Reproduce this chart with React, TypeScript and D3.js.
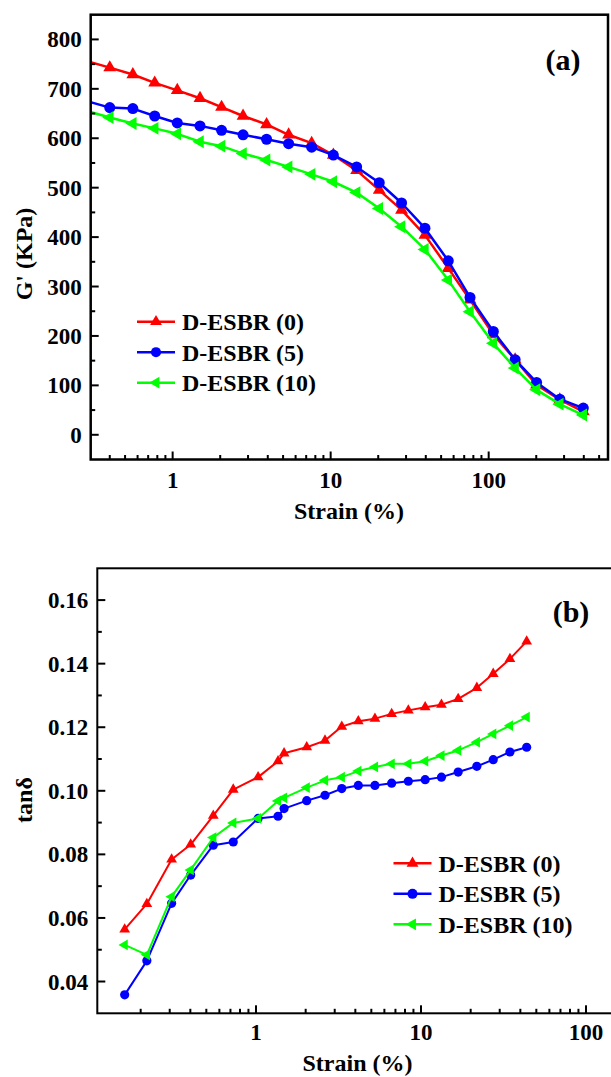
import React, { useRef, useEffect } from 'react';
import * as d3 from 'd3';

// panel (a): storage modulus vs strain
const gStrain = [0.28, 0.40, 0.56, 0.77, 1.07, 1.49, 2.04, 2.79, 3.93, 5.42, 7.58, 10.4, 14.6, 20.3, 28.1, 39.5, 55.5, 76.2, 107, 147, 201, 282, 397];
const gRed = [757, 743, 729, 712, 697, 681, 663, 645, 628, 607, 590, 566, 535, 495, 455, 404, 337, 273, 203, 152, 101, 71, 47];
const gBlue = [676, 662, 660, 645, 631, 625, 616, 607, 598, 589, 582, 566, 542, 510, 469, 418, 352, 278, 209, 152, 106, 72, 54];
const gGreen = [656, 642, 630, 620, 609, 593, 584, 569, 556, 542, 527, 512, 490, 458, 421, 375, 313, 249, 185, 135, 91, 62, 40];
const gYTicks = [0, 100, 200, 300, 400, 500, 600, 700, 800];

// panel (b): tan delta vs strain
const tStrain = [0.16, 0.218, 0.308, 0.402, 0.551, 0.728, 1.03, 1.36, 1.48, 2.03, 2.62, 3.31, 4.17, 5.26, 6.64, 8.38, 10.6, 13.3, 16.8, 21.8, 27.4, 34.6, 43.7];
const tRed = [0.0564, 0.0644, 0.0784, 0.0831, 0.0922, 0.1004, 0.1043, 0.1093, 0.1118, 0.1137, 0.1158, 0.1202, 0.1219, 0.1227, 0.1242, 0.1253, 0.1263, 0.1271, 0.1289, 0.1324, 0.1368, 0.1415, 0.1470];
const tBlue = [0.0358, 0.0465, 0.0646, 0.0735, 0.0829, 0.0839, 0.0913, 0.0920, 0.0944, 0.0969, 0.0986, 0.1007, 0.1017, 0.1017, 0.1024, 0.1030, 0.1035, 0.1043, 0.1059, 0.1077, 0.1098, 0.1122, 0.1137];
const tGreen = [0.0515, 0.0484, 0.0667, 0.0751, 0.0853, 0.0899, 0.0913, 0.0968, 0.0978, 0.1010, 0.1033, 0.1043, 0.1062, 0.1075, 0.1085, 0.1085, 0.1093, 0.1111, 0.1127, 0.1153, 0.1179, 0.1205, 0.1232];
const tYTicks = [0.04, 0.06, 0.08, 0.10, 0.12, 0.14, 0.16];

const xMajor = [1, 10, 100];
const seriesNames = ['D-ESBR (0)', 'D-ESBR (5)', 'D-ESBR (10)'];
const colors = ['#ff0000', '#0000ff', '#00ff00'];
const shapes = ['up', 'circle', 'left'];

const FONT = "'Liberation Serif', 'Times New Roman', Times, 'DejaVu Serif', serif";

const App = () => {
  const svgRef = useRef();

  useEffect(() => {
    d3.select(svgRef.current).selectAll('*').remove();
    const svg = d3.select(svgRef.current);

    const marker = (g, shape, x, y, s, color) => {
      if (shape === 'circle') {
        g.append('circle').attr('cx', x).attr('cy', y).attr('r', s * 0.46).attr('fill', color);
      } else {
        const path = d3.symbol().type(d3.symbolTriangle).size(s * s * 0.5)();
        g.append('path')
          .attr('d', path)
          .attr('fill', color)
          .attr('transform', `translate(${x},${y}) rotate(${shape === 'left' ? -90 : 0})`);
      }
    };

    const drawPanel = (p) => {
      const x = d3.scaleLog().domain(p.xDomain).range([p.left, p.right]);
      const y = d3.scaleLinear().domain(p.yDomain).range([p.bottom, p.top]);
      const g = svg.append('g').style('font-family', FONT).style('font-weight', 'bold');

      const clipId = `clip-${p.id}`;
      g.append('clipPath').attr('id', clipId)
        .append('rect')
        .attr('x', p.left).attr('y', p.top)
        .attr('width', p.right - p.left).attr('height', p.bottom - p.top);

      // series
      const plot = g.append('g').attr('clip-path', `url(#${clipId})`);
      p.series.forEach((vals, i) => {
        const pts = p.strain.map((s, j) => [s, vals[j]]);
        plot.append('path')
          .attr('d', d3.line().x(d => x(d[0])).y(d => y(d[1]))(pts))
          .attr('fill', 'none')
          .attr('stroke', colors[i])
          .attr('stroke-width', p.lineW)
          .attr('stroke-linejoin', 'round');
        pts.forEach(d => marker(plot, shapes[i], x(d[0]), y(d[1]), p.markS, colors[i]));
      });

      // frame
      g.append('rect')
        .attr('x', p.left).attr('y', p.top)
        .attr('width', p.right - p.left).attr('height', p.bottom - p.top)
        .attr('fill', 'none').attr('stroke', '#000').attr('stroke-width', p.frameW);

      // x ticks (inward)
      const [x0, x1] = p.xDomain;
      const minor = [];
      for (let dec = 0.1; dec < 1000; dec *= 10) {
        for (let k = 2; k <= 9; k++) {
          const v = +(dec * k).toPrecision(3);
          if (v > x0 && v < x1) minor.push(v);
        }
      }
      minor.forEach(v => {
        g.append('line').attr('x1', x(v)).attr('x2', x(v))
          .attr('y1', p.bottom).attr('y2', p.bottom - 4.5)
          .attr('stroke', '#000').attr('stroke-width', 2);
      });
      xMajor.filter(v => v > x0 && v < x1).forEach(v => {
        g.append('line').attr('x1', x(v)).attr('x2', x(v))
          .attr('y1', p.bottom).attr('y2', p.bottom - 8)
          .attr('stroke', '#000').attr('stroke-width', 2);
        g.append('text')
          .attr('x', x(v)).attr('y', p.xLabelY)
          .attr('text-anchor', 'middle')
          .attr('font-size', 23)
          .text(v);
      });

      // y ticks (inward)
      const yt = p.yTicks;
      const step = yt[1] - yt[0];
      yt.forEach(v => {
        g.append('line').attr('x1', p.left).attr('x2', p.left + 8)
          .attr('y1', y(v)).attr('y2', y(v))
          .attr('stroke', '#000').attr('stroke-width', 2);
        g.append('text')
          .attr('x', p.left - 9).attr('y', y(v)).attr('dy', '0.35em')
          .attr('text-anchor', 'end')
          .attr('font-size', 23)
          .text(p.fmt(v));
        const m = v + step / 2;
        if (m < p.yDomain[1]) {
          g.append('line').attr('x1', p.left).attr('x2', p.left + 4.5)
            .attr('y1', y(m)).attr('y2', y(m))
            .attr('stroke', '#000').attr('stroke-width', 2);
        }
      });

      // axis titles
      g.append('text')
        .attr('x', p.xTitleX).attr('y', p.xTitleY)
        .attr('text-anchor', 'middle')
        .attr('font-size', 24)
        .text('Strain (%)');
      g.append('text')
        .attr('transform', `translate(${p.yTitleX},${p.yTitleY}) rotate(-90)`)
        .attr('text-anchor', 'middle').attr('dy', '0.35em')
        .attr('font-size', 24)
        .text(p.yTitle);

      // panel tag
      g.append('text')
        .attr('x', p.tagX).attr('y', p.tagY)
        .attr('text-anchor', 'middle')
        .attr('font-size', 30)
        .text(p.tag);

      // legend
      seriesNames.forEach((name, i) => {
        const ly = p.legY + i * 30.5;
        g.append('line')
          .attr('x1', p.legX).attr('x2', p.legX + 38)
          .attr('y1', ly).attr('y2', ly)
          .attr('stroke', colors[i]).attr('stroke-width', 2.5);
        marker(g, shapes[i], p.legX + 19, ly, 11, colors[i]);
        g.append('text')
          .attr('x', p.legX + 45).attr('y', ly).attr('dy', '0.35em')
          .attr('font-size', 24)
          .text(name);
      });
    };

    drawPanel({
      id: 'a', left: 90.7, right: 608, top: 14.7, bottom: 459.5,
      xDomain: [0.303, 569], yDomain: [-50, 850],
      strain: gStrain, series: [gRed, gBlue, gGreen], yTicks: gYTicks,
      fmt: d3.format('d'), lineW: 2.5, markS: 12, frameW: 2.5,
      xLabelY: 488, xTitleX: 349, xTitleY: 519,
      yTitle: "G' (KPa)", yTitleX: 24, yTitleY: 254,
      tag: '(a)', tagX: 563, tagY: 70, legX: 137, legY: 321.7
    });

    drawPanel({
      id: 'b', left: 97.3, right: 618, top: 568.3, bottom: 1013.3,
      xDomain: [0.1092, 156.3], yDomain: [0.03, 0.17],
      strain: tStrain, series: [tRed, tBlue, tGreen], yTicks: tYTicks,
      fmt: d3.format('.2f'), lineW: 2, markS: 10, frameW: 2,
      xLabelY: 1040, xTitleX: 357.5, xTitleY: 1071,
      yTitle: 'tanδ', yTitleX: 24, yTitleY: 800,
      tag: '(b)', tagX: 571, tagY: 622, legX: 393.5, legY: 863.3
    });
  }, []);

  return (
    <div style={{ position: 'absolute', left: 0, top: 0 }}>
      <svg ref={svgRef} width={611} height={1077} style={{ display: 'block', background: '#fff' }} />
    </div>
  );
};

export default App;
